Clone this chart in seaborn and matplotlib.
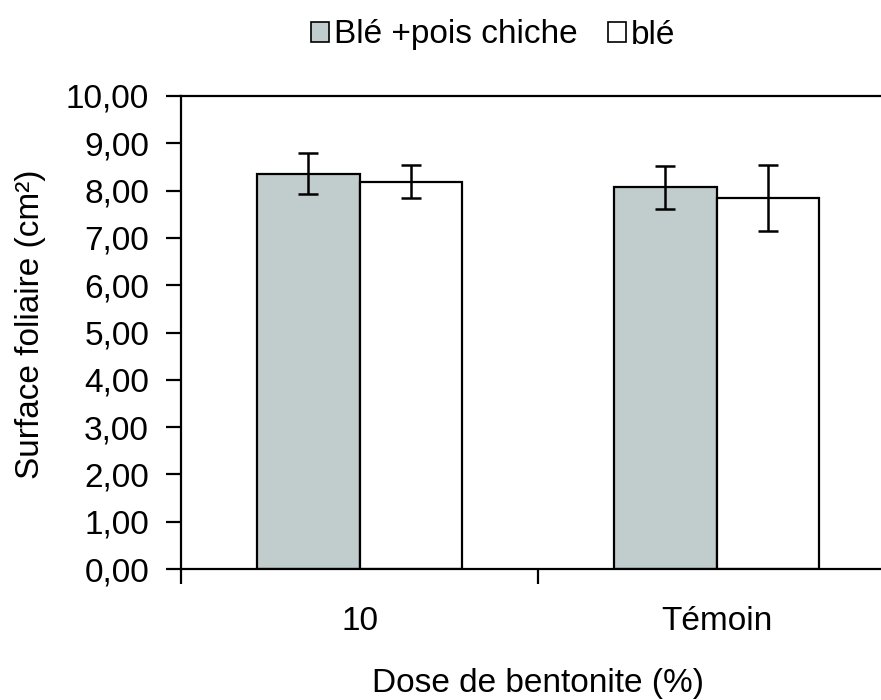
import matplotlib
matplotlib.use("Agg")
import matplotlib.pyplot as plt
import seaborn as sns
import pandas as pd
from matplotlib.patches import Patch

categories = ["10", "Témoin"]
series_names = ["Blé +pois chiche", "blé"]
ble_pois = [8.36, 8.07]
ble = [8.19, 7.84]
err_ble_pois = [0.43, 0.46]
err_ble = [0.35, 0.70]
yticks = [0, 1, 2, 3, 4, 5, 6, 7, 8, 9, 10]

sns.set_theme(style="white")
plt.rcParams['font.family'] = ['Liberation Sans', 'DejaVu Sans']
plt.rcParams['text.color'] = 'black'
plt.rcParams['axes.labelcolor'] = 'black'
plt.rcParams['xtick.color'] = 'black'
plt.rcParams['ytick.color'] = 'black'

rows = []
for name, vals in zip(series_names, [ble_pois, ble]):
    for c, v in zip(categories, vals):
        rows.append({"Dose": c, "Série": name, "Surface": v})
df = pd.DataFrame(rows)

fig = plt.figure(figsize=(8.81, 7.0), dpi=100)
ax = fig.add_axes([181/881, 131/700, (895-181)/881, (569-96)/700])

colors = ["#C1CDCC", "#FFFFFF"]
sns.barplot(data=df, x="Dose", y="Surface", hue="Série", order=categories,
            hue_order=series_names, palette=colors, width=0.577,
            edgecolor="black", linewidth=1.6, errorbar=None, ax=ax,
            legend=False, saturation=1)

errs = {series_names[0]: err_ble_pois, series_names[1]: err_ble}
for container, name in zip(ax.containers, series_names):
    for bar, e in zip(container, errs[name]):
        xc = bar.get_x() + bar.get_width() / 2
        ax.errorbar(xc, bar.get_height(), yerr=e, fmt="none", ecolor="black",
                    elinewidth=1.8, capsize=7, capthick=1.8, zorder=5)

ax.set_xlim(-0.5, 1.5)
ax.set_ylim(0, 10)
ax.set_yticks(yticks)
ax.set_yticklabels([f"{v:.2f}".replace(".", ",") for v in yticks])
ax.set_xticks([0, 1])
ax.set_xticklabels(categories)
ax.set_xticks([-0.5, 0.5, 1.5], minor=True)
ax.tick_params(axis="x", which="major", length=0, pad=27, labelsize=24,
               labelcolor="black")
ax.tick_params(axis="x", which="minor", length=11, width=1.6, direction="out",
               color="black", bottom=True)
ax.tick_params(axis="y", which="major", length=11, width=1.6, direction="out",
               color="black", left=True, pad=12, labelsize=24, labelcolor="black")
for s in ["left", "bottom", "top"]:
    ax.spines[s].set_color("black")
    ax.spines[s].set_linewidth(1.6)
ax.spines["right"].set_visible(False)

ax.set_xlabel("Dose de bentonite (%)", fontsize=24, labelpad=22, color="black")
ax.set_ylabel("Surface foliaire (cm²)", fontsize=24, labelpad=14, color="black")
ax.yaxis.label.set_y(0.518)

handles = [Patch(facecolor=colors[0], edgecolor="black", linewidth=1.2),
           Patch(facecolor=colors[1], edgecolor="black", linewidth=1.2)]
fig.legend(handles, series_names, loc="center", bbox_to_anchor=(493/881, 1 - 35/700),
           ncol=2, frameon=False, fontsize=24, handlelength=0.55, handleheight=0.55,
           handletextpad=0.15, columnspacing=0.9, labelcolor="black")

fig.savefig("out.png", dpi=100)
